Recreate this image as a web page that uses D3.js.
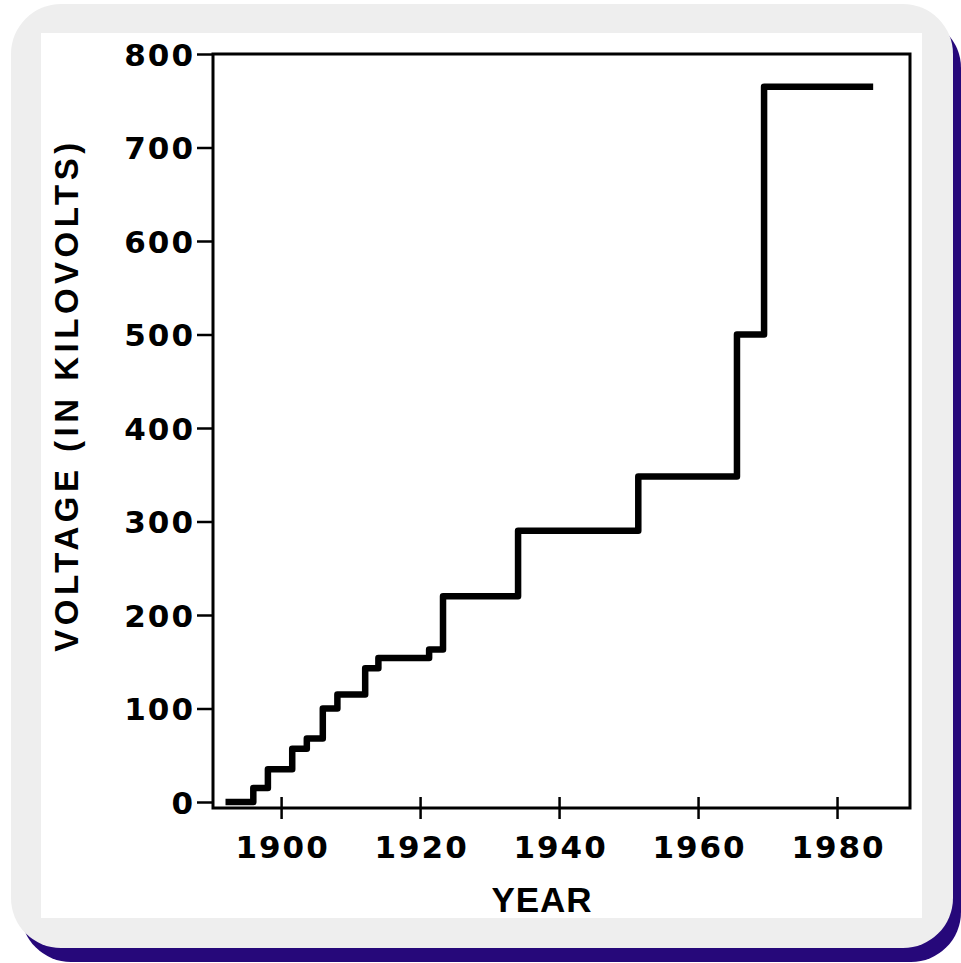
<!DOCTYPE html>
<html>
<head>
<meta charset="utf-8">
<script src="https://cdn.jsdelivr.net/npm/d3@7"></script>
<style>
  html, body { margin: 0; padding: 0; background: #ffffff; }
  svg { display: block; }
</style>
</head>
<body>
<script>
// Step years (start of each level) and the voltage of that level, last point closes the line
const stepYears = [1892, 1896, 1898.1, 1901.6, 1903.7, 1906, 1908.1, 1912.1, 1914, 1921.3, 1923.3, 1934.1, 1951.4, 1965.6, 1969.5, 1985.2];
const voltages = [0, 15, 35, 57, 68, 100, 115, 143, 154, 163, 220, 290, 348, 500, 765, 765];
const yearTicks = [1900, 1920, 1940, 1960, 1980];
const voltTicks = [0, 100, 200, 300, 400, 500, 600, 700, 800];

const W = 961, H = 963;
const FONT = "'Liberation Sans', Arial, Helvetica, sans-serif";
const DIGIT_FONT = "'DejaVu Sans', Verdana, sans-serif";

// plot frame
const frame = { left: 213, top: 54, right: 910, bottom: 808 };

const svg = d3.select("body")
    .append("svg")
    .attr("width", W)
    .attr("height", H);

// card with offset shadow
svg.append("rect")
    .attr("x", 21).attr("y", 18)
    .attr("width", 940).attr("height", 944)
    .attr("rx", 50)
    .attr("fill", "#26087a");
svg.append("rect")
    .attr("x", 11).attr("y", 4)
    .attr("width", 942).attr("height", 944)
    .attr("rx", 50)
    .attr("fill", "#eeeeee");
svg.append("rect")
    .attr("x", 41).attr("y", 33)
    .attr("width", 881).attr("height", 885)
    .attr("fill", "#ffffff");

const x = d3.scaleLinear()
    .domain([1890.2, 1990.5])
    .range([frame.left, frame.right]);

const y = d3.scaleLinear()
    .domain([0, 800])
    .range([802, 54]);

// frame box
svg.append("rect")
    .attr("x", frame.left).attr("y", frame.top)
    .attr("width", frame.right - frame.left)
    .attr("height", frame.bottom - frame.top)
    .attr("fill", "none")
    .attr("stroke", "#000")
    .attr("stroke-width", 3);

// y axis ticks + labels
const yAxis = svg.append("g")
    .attr("transform", `translate(${frame.left},0)`)
    .call(d3.axisLeft(y).tickValues(voltTicks).tickSize(16).tickFormat(d3.format("d")));
yAxis.select(".domain").remove();
yAxis.selectAll(".tick line").attr("stroke", "#000").attr("stroke-width", 2.5);
yAxis.selectAll(".tick text")
    .attr("x", -18)
    .attr("dy", "0.37em")
    .attr("fill", "#000")
    .style("font-family", DIGIT_FONT)
    .style("font-size", "31px")
    .style("font-weight", "bold")
    .style("letter-spacing", "2px");

// x axis: ticks crossing the frame line
const xAxis = svg.append("g")
    .attr("transform", `translate(0,${frame.bottom})`)
    .call(d3.axisBottom(x).tickValues(yearTicks).tickSize(11).tickFormat(d3.format("d")));
xAxis.select(".domain").remove();
xAxis.selectAll(".tick line")
    .attr("y1", -11)
    .attr("y2", 11)
    .attr("stroke", "#000")
    .attr("stroke-width", 2.5);
xAxis.selectAll(".tick text")
    .attr("y", 50)
    .attr("dy", 0)
    .attr("dx", 1)
    .attr("fill", "#000")
    .style("font-family", DIGIT_FONT)
    .style("font-size", "31px")
    .style("font-weight", "bold")
    .style("letter-spacing", "2px");

// step line
const line = d3.line()
    .x((d, i) => x(stepYears[i]))
    .y(d => y(d))
    .curve(d3.curveStepAfter);

svg.append("path")
    .datum(voltages)
    .attr("d", line)
    .attr("fill", "none")
    .attr("stroke", "#000")
    .attr("stroke-width", 6.5)
    .attr("stroke-linejoin", "round");

// axis titles
svg.append("text")
    .attr("x", 542)
    .attr("y", 912)
    .attr("text-anchor", "middle")
    .style("font-family", FONT)
    .style("font-size", "35px")
    .style("font-weight", "bold")
    .style("letter-spacing", "1px")
    .text("YEAR");

svg.append("text")
    .attr("transform", "translate(78,395) rotate(-90)")
    .attr("text-anchor", "middle")
    .style("font-family", FONT)
    .style("font-size", "33px")
    .style("font-weight", "bold")
    .style("letter-spacing", "4.5px")
    .text("VOLTAGE (IN KILOVOLTS)");
</script>
</body>
</html>
